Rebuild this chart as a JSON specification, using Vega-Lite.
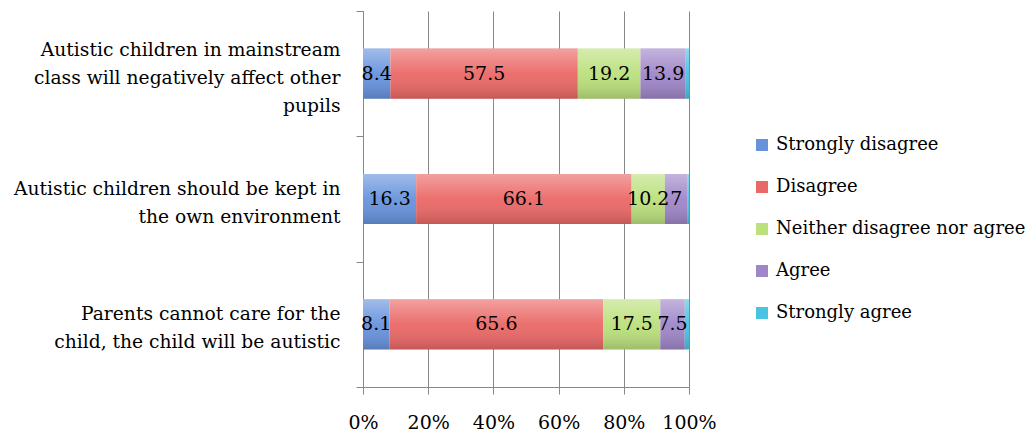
{
  "$schema": "https://vega.github.io/schema/vega-lite/v6.json",
  "width": 326,
  "height": 376,
  "autosize": {"type": "none"},
  "padding": {"left": 363, "top": 11, "right": 344, "bottom": 52},
  "background": "white",
  "config": {"view": {"stroke": null}, "font": "DejaVu Serif"},
  "data": {
    "values": [
      {"statement": "Autistic children in mainstream class will negatively affect other pupils", "response": "Strongly disagree", "order": 1, "value": 8.4},
      {"statement": "Autistic children in mainstream class will negatively affect other pupils", "response": "Disagree", "order": 2, "value": 57.5},
      {"statement": "Autistic children in mainstream class will negatively affect other pupils", "response": "Neither disagree nor agree", "order": 3, "value": 19.2},
      {"statement": "Autistic children in mainstream class will negatively affect other pupils", "response": "Agree", "order": 4, "value": 13.9},
      {"statement": "Autistic children in mainstream class will negatively affect other pupils", "response": "Strongly agree", "order": 5, "value": 1.0},
      {"statement": "Autistic children should be kept in the own environment", "response": "Strongly disagree", "order": 1, "value": 16.3},
      {"statement": "Autistic children should be kept in the own environment", "response": "Disagree", "order": 2, "value": 66.1},
      {"statement": "Autistic children should be kept in the own environment", "response": "Neither disagree nor agree", "order": 3, "value": 10.2},
      {"statement": "Autistic children should be kept in the own environment", "response": "Agree", "order": 4, "value": 7},
      {"statement": "Autistic children should be kept in the own environment", "response": "Strongly agree", "order": 5, "value": 0.4},
      {"statement": "Parents cannot care for the child, the child will be autistic", "response": "Strongly disagree", "order": 1, "value": 8.1},
      {"statement": "Parents cannot care for the child, the child will be autistic", "response": "Disagree", "order": 2, "value": 65.6},
      {"statement": "Parents cannot care for the child, the child will be autistic", "response": "Neither disagree nor agree", "order": 3, "value": 17.5},
      {"statement": "Parents cannot care for the child, the child will be autistic", "response": "Agree", "order": 4, "value": 7.5},
      {"statement": "Parents cannot care for the child, the child will be autistic", "response": "Strongly agree", "order": 5, "value": 1.3}
    ]
  },
  "resolve": {"axis": {"y": "independent"}},
  "layer": [
    {
      "mark": {"type": "bar", "height": {"band": 0.4}},
      "encoding": {
        "y": {
          "field": "statement",
          "type": "nominal",
          "sort": null,
          "scale": {"paddingInner": 0, "paddingOuter": 0},
          "axis": {
            "orient": "left",
            "title": null,
            "domainColor": "#888888",
            "ticks": false,
            "labelFont": "DejaVu Serif",
            "labelFontSize": 18.7,
            "labelColor": "#000000",
            "labelPadding": 23,
            "labelLineHeight": 28,
            "labelLimit": 400,
            "labelOffset": {"condition": {"test": "datum.value == 'Autistic children in mainstream class will negatively affect other pupils'", "value": -24}, "value": -10},
            "labelExpr": "datum.value == 'Autistic children in mainstream class will negatively affect other pupils' ? ['Autistic children in mainstream', 'class will negatively  affect other', 'pupils'] : datum.value == 'Autistic children should be kept in the own environment' ? ['Autistic children should be kept in', 'the own environment'] : ['Parents cannot care for the', 'child, the child will be autistic']"
          }
        },
        "x": {
          "field": "value",
          "type": "quantitative",
          "stack": "zero",
          "scale": {"domain": [0, 100]},
          "axis": {
            "title": null,
            "values": [0, 20, 40, 60, 80, 100],
            "labelExpr": "datum.value + '%'",
            "labelOverlap": false,
            "labelFlush": false,
            "grid": true,
            "gridColor": "#888888",
            "domainColor": "#888888",
            "tickColor": "#888888",
            "tickSize": 7,
            "labelFont": "DejaVu Serif",
            "labelFontSize": 19,
            "labelColor": "#000000",
            "labelPadding": 19
          }
        },
        "color": {
          "field": "response",
          "type": "nominal",
          "scale": {
            "domain": ["Strongly disagree", "Disagree", "Neither disagree nor agree", "Agree", "Strongly agree"],
            "range": ["#6793DD", "#EA6866", "#BBE07C", "#9F86C8", "#48C3E2"]
          },
          "legend": {
            "title": null,
            "orient": "none",
            "legendX": 390,
            "legendY": 125,
            "padding": 0,
            "symbolType": "square",
            "symbolSize": 144,
            "symbolStrokeWidth": 0,
            "labelFont": "DejaVu Serif",
            "labelFontSize": 18,
            "labelColor": "#000000",
            "labelOffset": 5,
            "rowPadding": 24,
            "labelLimit": 400
          }
        },
        "order": {"field": "order", "type": "quantitative"}
      }
    },
    {
      "mark": {
        "type": "bar",
        "height": {"band": 0.4},
        "fill": {
          "gradient": "linear",
          "x1": 0, "y1": 0, "x2": 0, "y2": 1,
          "stops": [
            {"offset": 0, "color": "rgba(255,255,255,0.38)"},
            {"offset": 0.5, "color": "rgba(255,255,255,0.05)"},
            {"offset": 1, "color": "rgba(0,0,0,0.16)"}
          ]
        }
      },
      "encoding": {
        "y": {
          "field": "statement",
          "type": "nominal",
          "sort": null,
          "axis": {
            "orient": "left",
            "title": null,
            "domain": false,
            "labels": false,
            "tickColor": "#888888",
            "tickSize": 7,
            "tickBand": "extent"
          }
        },
        "x": {"field": "value", "type": "quantitative", "stack": "zero"},
        "detail": {"field": "response", "type": "nominal"},
        "order": {"field": "order", "type": "quantitative"}
      }
    },
    {
      "transform": [{"filter": "datum.response != 'Strongly agree'"}],
      "mark": {"type": "text", "fontSize": 19, "font": "DejaVu Serif", "color": "#000000", "baseline": "middle"},
      "encoding": {
        "y": {"field": "statement", "type": "nominal", "sort": null, "axis": null},
        "x": {"field": "value", "type": "quantitative", "stack": "zero", "bandPosition": 0.5},
        "detail": {"field": "response", "type": "nominal"},
        "order": {"field": "order", "type": "quantitative"},
        "text": {"field": "value", "type": "quantitative"}
      }
    }
  ]
}
